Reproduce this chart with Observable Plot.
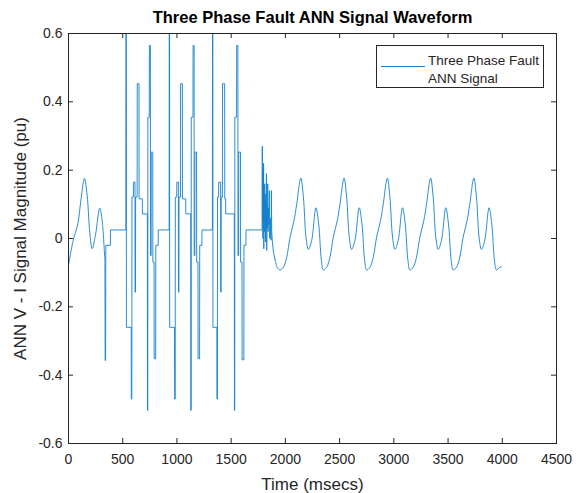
<!DOCTYPE html>
<html>
<head>
<meta charset="utf-8">
<script src="https://cdn.jsdelivr.net/npm/d3@7"></script>
<script src="https://cdn.jsdelivr.net/npm/@observablehq/plot@0.6"></script>
<style>
  html, body { margin: 0; padding: 0; background: #fff; }
  #chart { width: 582px; height: 493px; }
</style>
</head>
<body>
<div id="chart"></div>
<script>
const titleText = "Three Phase Fault ANN Signal Waveform";
const xLabelText = "Time (msecs)";
const yLabelText = "ANN V - I Signal Magnitude (pu)";
const legendLines = ["Three Phase Fault", "ANN Signal"];

const xTicks = [0, 500, 1000, 1500, 2000, 2500, 3000, 3500, 4000, 4500];
const yTicks = [-0.6, -0.4, -0.2, 0, 0.2, 0.4, 0.6];

// pre-fault smooth part
const preTime  = [0, 43, 86, 116, 147, 172, 196, 218, 248, 288, 310, 331];
const preValue = [-0.078, -0.006, 0.043, 0.116, 0.176, 0.126, 0.018, -0.030, 0.009, 0.089, 0.053, -0.040];

// fault (stepped) part
const faultTime = [
  331, 336, 338, 342, 344, 386, 387, 529,
  530, 533, 534, 578, 579, 584, 585, 598, 599, 613, 614, 618, 619, 633, 634, 650, 651, 681, 682, 727,
  728, 731, 732, 745, 746, 755, 756, 762, 763, 777, 778, 789, 790, 804, 805, 827, 828, 928,
  929, 932, 933, 978, 979, 984, 985, 998, 999, 1013, 1014, 1018, 1019, 1033, 1034, 1050, 1051, 1081, 1082, 1127,
  1128, 1131, 1132, 1148, 1149, 1158, 1159, 1165, 1166, 1181, 1182, 1194, 1195, 1209, 1210, 1230, 1231, 1327,
  1328, 1331, 1332, 1368, 1369, 1373, 1374, 1384, 1385, 1403, 1404, 1407, 1408, 1419, 1420, 1440, 1441, 1449, 1450, 1529,
  1530, 1533, 1534, 1550, 1551, 1562, 1563, 1569, 1570, 1586, 1587, 1600, 1601, 1617, 1618, 1636, 1637, 1785,
  1787, 1789, 1791, 1793, 1795, 1797, 1799, 1801, 1804, 1806, 1809, 1811, 1814, 1816, 1819, 1822, 1825, 1828,
  1831, 1834, 1837, 1840, 1844, 1848, 1852, 1856, 1860, 1864, 1868, 1871, 1874, 1880, 1890, 1905
];
const faultValue = [
  -0.040, -0.060, -0.357, -0.357, -0.020, -0.020, 0.025, 0.025,
  0.70, 0.70, -0.26, -0.26, -0.47, -0.47, 0.121, 0.121, 0.165, 0.165, -0.157, -0.157, 0.121, 0.121, 0.453, 0.453, 0.116, 0.116, 0.072, 0.072,
  -0.503, -0.503, 0.355, 0.355, 0.565, 0.565, -0.050, -0.050, 0.253, 0.253, -0.069, -0.069, -0.352, -0.352, -0.020, -0.020, 0.025, 0.025,
  0.70, 0.70, -0.26, -0.26, -0.47, -0.47, 0.121, 0.121, 0.165, 0.165, -0.157, -0.157, 0.121, 0.121, 0.453, 0.453, 0.116, 0.116, 0.072, 0.072,
  -0.503, -0.503, 0.355, 0.355, 0.565, 0.565, -0.050, -0.050, 0.253, 0.253, -0.069, -0.069, -0.352, -0.352, -0.020, -0.020, 0.025, 0.025,
  0.70, 0.70, -0.26, -0.26, -0.47, -0.47, 0.121, 0.121, 0.165, 0.165, -0.157, -0.157, 0.121, 0.121, 0.453, 0.453, 0.116, 0.116, 0.072, 0.072,
  -0.503, -0.503, 0.355, 0.355, 0.565, 0.565, -0.050, -0.050, 0.253, 0.253, -0.069, -0.069, -0.355, -0.355, -0.020, -0.020, 0.025, 0.025,
  0.27, 0.05, 0.20, 0.00, 0.17, 0.03, 0.22, -0.03, 0.12, 0.02, 0.16, 0.05, 0.13, -0.01, 0.11, 0.03, 0.19, -0.035,
  0.10, 0.03, 0.16, 0.02, 0.09, 0.04, 0.14, 0.00, 0.06, 0.01, -0.005, 0.14, 0.02, -0.01, -0.04, -0.062
];

// post-fault smooth part
const postTime = [
  1905, 1925, 1950, 1982, 2012, 2043, 2080, 2104, 2142, 2166, 2190, 2212, 2242, 2282, 2307, 2332,
  2350, 2381, 2411, 2442, 2479, 2503, 2541, 2565, 2589, 2611, 2641, 2681, 2706, 2731,
  2749, 2780, 2810, 2841, 2878, 2902, 2940, 2964, 2988, 3010, 3040, 3080, 3105, 3130,
  3148, 3179, 3209, 3240, 3277, 3301, 3339, 3363, 3387, 3409, 3439, 3479, 3504, 3529,
  3547, 3578, 3608, 3639, 3676, 3700, 3738, 3762, 3786, 3808, 3838, 3878, 3903, 3928,
  3946, 3978, 3990
];
const postValue = [
  -0.062, -0.085, -0.092, -0.084, -0.055, 0.004, 0.053, 0.100, 0.177, 0.121, 0.004, -0.032, -0.006, 0.090, 0.043, -0.064,
  -0.092, -0.084, -0.055, 0.004, 0.053, 0.100, 0.177, 0.121, 0.004, -0.032, -0.006, 0.090, 0.043, -0.064,
  -0.092, -0.084, -0.055, 0.004, 0.053, 0.100, 0.177, 0.121, 0.004, -0.032, -0.006, 0.090, 0.043, -0.064,
  -0.092, -0.084, -0.055, 0.004, 0.053, 0.100, 0.177, 0.121, 0.004, -0.032, -0.006, 0.090, 0.043, -0.064,
  -0.092, -0.084, -0.055, 0.004, 0.053, 0.100, 0.177, 0.121, 0.004, -0.032, -0.006, 0.090, 0.043, -0.064,
  -0.092, -0.084, -0.083
];

const lineColor = "#1480cc";
const axisColor = "#262626";
const fontFam = "'Liberation Sans', Arial, Helvetica, sans-serif";

const pre = preTime.map((t, i) => ({t, v: preValue[i]}));
const fault = faultTime.map((t, i) => ({t, v: faultValue[i]}));
const post = postTime.map((t, i) => ({t, v: postValue[i]}));

const W = 582, H = 493;
const mT = 33, mR = 26, mB = 50, mL = 68;
const innerH = H - mT - mB, innerW = W - mL - mR;
const tickLen = 5;

const fmtX = d => String(d);
const fmtY = d => d === 0 ? "0" : (d < 0 ? "-" : "") + Math.abs(d).toFixed(1);

const chart = Plot.plot({
  width: W, height: H,
  marginTop: mT, marginRight: mR, marginBottom: mB, marginLeft: mL,
  style: {fontFamily: fontFam, fontSize: "14px", color: axisColor, background: "white"},
  x: {domain: [0, 4500]},
  y: {domain: [-0.6, 0.6]},
  marks: [
    Plot.line(pre, {x: "t", y: "v", stroke: lineColor, strokeWidth: 0.9, curve: "catmull-rom", clip: true}),
    Plot.line(fault, {x: "t", y: "v", stroke: lineColor, strokeWidth: 0.9, curve: "linear", clip: true}),
    Plot.line(post, {x: "t", y: "v", stroke: lineColor, strokeWidth: 0.9, curve: "catmull-rom", clip: true}),
    Plot.tickX(xTicks, {x: d => d, insetTop: innerH - tickLen, stroke: axisColor}),
    Plot.tickX(xTicks, {x: d => d, insetBottom: innerH - tickLen, stroke: axisColor}),
    Plot.tickY(yTicks, {y: d => d, insetRight: innerW - tickLen, stroke: axisColor}),
    Plot.tickY(yTicks, {y: d => d, insetLeft: innerW - tickLen, stroke: axisColor}),
    Plot.frame({stroke: axisColor, strokeWidth: 1}),
    Plot.axisX(xTicks, {tickSize: 0, tickPadding: 11, label: null, tickFormat: fmtX, fontSize: 14, fill: axisColor}),
    Plot.axisY(yTicks, {tickSize: 0, tickPadding: 6, label: null, tickFormat: fmtY, fontSize: 14, fill: axisColor}),
    Plot.text([titleText], {frameAnchor: "top", dy: -16, lineAnchor: "middle", textAnchor: "middle", fontWeight: "bold", fontSize: 16.5, fill: "black"}),
    Plot.text([xLabelText], {frameAnchor: "bottom", dy: 41, lineAnchor: "middle", textAnchor: "middle", fontSize: 17, fill: axisColor}),
    Plot.text([yLabelText], {frameAnchor: "left", dx: -48, lineAnchor: "middle", textAnchor: "middle", rotate: -90, fontSize: 17, fill: axisColor})
  ]
});

document.getElementById("chart").appendChild(chart);

// legend box (MATLAB style, top-right inside axes)
const svg = d3.select(chart);
const lg = svg.append("g").attr("font-family", fontFam).attr("font-size", 13.5).attr("text-anchor", "start");
lg.append("rect").attr("x", 376.5).attr("y", 45.5).attr("width", 167).attr("height", 42)
  .attr("fill", "white").attr("stroke", axisColor).attr("stroke-width", 1);
lg.append("line").attr("x1", 381).attr("x2", 425).attr("y1", 66.5).attr("y2", 66.5)
  .attr("stroke", lineColor).attr("stroke-width", 1);
legendLines.forEach((s, i) => {
  lg.append("text").attr("x", 428).attr("y", 60 + i * 18).attr("dy", "0.35em")
    .attr("text-anchor", "start").attr("fill", axisColor).text(s);
});
</script>
</body>
</html>
